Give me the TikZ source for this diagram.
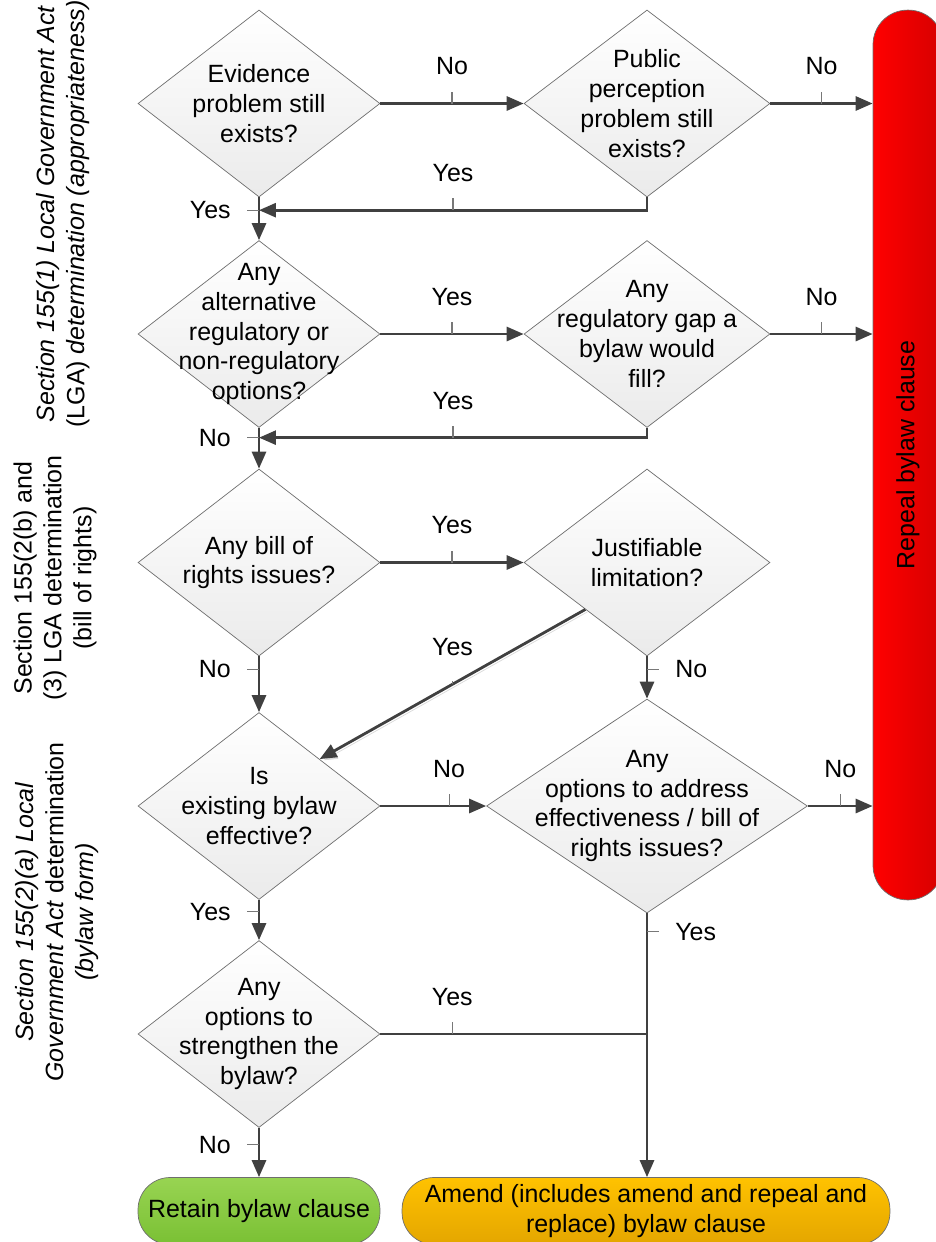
\documentclass[tikz,border=0pt]{standalone}
\usepackage{fontspec}
\setmainfont{Liberation Sans}
\usetikzlibrary{shapes.geometric,arrows.meta}

\definecolor{linegray}{RGB}{64,64,64}
\definecolor{edgegray}{RGB}{110,110,110}
\definecolor{tickgray}{RGB}{120,120,120}
\definecolor{repealred}{RGB}{255,0,0}
\definecolor{repealdark}{RGB}{214,0,0}
\definecolor{retaintop}{RGB}{152,212,82}
\definecolor{retainbot}{RGB}{122,192,52}
\definecolor{amendtop}{RGB}{255,194,0}
\definecolor{amendbot}{RGB}{228,166,0}

\begin{document}
\begin{tikzpicture}[
  x=0.02cm, y=-0.02cm,
  font=\fontsize{14.2pt}{17pt}\selectfont,
  dec/.style={diamond,draw=edgegray,top color=white,bottom color=black!8,
    align=center,inner sep=-0.7cm,minimum width=4.84cm,minimum height=3.74cm},
  term/.style={draw=edgegray,rounded corners=0.64cm,minimum height=1.34cm,
    align=center,top color=#1top,bottom color=#1bot},
  bar/.style={draw=edgegray,rounded corners=0.69cm,minimum width=1.4cm,
    minimum height=17.8cm,left color=repealred,right color=repealdark},
  sect/.style={rotate=90,align=center},
  arrow/.style={-{Triangle[length=0.34cm,width=0.28cm]},line width=1.6pt,draw=linegray},
  link/.style={line width=1.6pt,draw=linegray},
  shadowed/.style={preaction={draw=black!15,transform canvas={shift={(0.04cm,-0.05cm)}}}},
  pin distance=0.56cm,
  every pin/.style={inner sep=0pt},
  every pin edge/.style={-,draw=tickgray,line width=0.6pt,shorten >=0.32cm},
]
\useasboundingbox (0,0) rectangle (936,1242);

% appropriateness
\node[dec] (evid) at (259,103.5) {Evidence\\problem still\\exists?};
\node[dec,minimum width=4.92cm] (percep) at (647,103.5) {Public\\perception\\problem still\\exists?};
\node[dec] (alt) at (259,334) {Any\\alternative\\regulatory or\\non-regulatory\\options?};
\node[dec,minimum width=4.92cm] (gap) at (647,334) {Any\\regulatory gap a\\bylaw would\\fill?};
% bill of rights
\node[dec] (rights) at (259,562.5) {Any bill of\\rights issues?};
\node[dec,minimum width=4.92cm] (justif) at (647,562.5) {Justifiable\\limitation?};
% bylaw form
\node[dec] (effect) at (259,806) {Is\\existing bylaw\\effective?};
\node[dec,minimum width=6.42cm,minimum height=4.28cm] (address) at (647,806)
  {Any\\options to address\\effectiveness / bill of\\rights issues?};
\node[dec] (strength) at (259,1034) {Any\\options to\\strengthen the\\bylaw?};
% outcomes
\node[term=retain,minimum width=4.84cm] (retain) at (259,1211) {Retain bylaw clause};
\node[term=amend,minimum width=9.76cm] (amend) at (646,1211)
  {Amend (includes amend and repeal and\\replace) bylaw clause};
\node[bar,label={[rotate=90]center:Repeal bylaw clause}] (repeal) at (908,455) {};
% section labels
\node[sect] (sec1) at (63,214)
  {\textit{Section 155(1) Local Government Act}\\(LGA) \textit{determination (appropriateness)}};
\node[sect] (sec2) at (55,578)
  {Section 155(2(b) and\\(3) LGA determination\\(bill of rights)};
\node[sect] (sec3) at (57,912)
  {\textit{Section 155(2)(a) Local}\\\textit{Government Act} determination\\\textit{(bylaw form)}};

\draw[arrow] (evid) -- coordinate (no1) (percep);
\draw[arrow] (percep) -- coordinate (no2) (percep -| repeal.west);
\draw[arrow] (evid) -- coordinate[pos=.3] (yes1) (alt);
\draw[arrow] (percep) |- coordinate[pos=.75] (yes2) (yes1);

\draw[arrow] (alt) -- coordinate (yes3) (gap);
\draw[arrow] (gap) -- coordinate (no4) (gap -| repeal.west);
\draw[arrow] (alt) -- coordinate[pos=.24] (no3) (rights);
\draw[arrow] (gap) |- coordinate[pos=.75] (yes4) (no3);

\draw[arrow] (rights) -- coordinate (yes5) (justif);
\draw[arrow,shadowed] (justif.south west) -- coordinate (yes6) (effect.north east);
\draw[arrow] (justif) -- coordinate[pos=.3] (no6) (address);
\draw[arrow] (rights) -- coordinate[pos=.23] (no5) (effect);

\draw[arrow] (effect) -- coordinate[pos=.65] (no7) (address);
\draw[arrow] (address) -- coordinate (no8) (address -| repeal.west);
\draw[arrow] (effect) -- coordinate[pos=.3] (yes7) (strength);
\draw[link] (strength) -- coordinate[pos=.27] (yes9) (strength -| address);
\draw[arrow] (address) -- coordinate[pos=.07] (yes8) (address |- amend.north);
\draw[arrow] (strength) -- coordinate[pos=.34] (no9) (retain);

% branch labels with their ticks
\foreach \c/\a/\t in {no1/90/No, no2/90/No, yes1/180/Yes, yes2/90/Yes,
    yes3/90/Yes, no4/90/No, no3/180/No, yes4/90/Yes, yes5/90/Yes,
    no6/0/No, no5/180/No, no7/90/No, no8/90/No, yes7/180/Yes,
    yes9/90/Yes, yes8/0/Yes, no9/180/No}
  \path (\c) coordinate[pin=\a:\t] (\c-t);
\path (yes6) coordinate[pin distance=0.76cm,
  pin={[pin edge={shorten >=0.5cm}]90:Yes}] (yes6-t);
\end{tikzpicture}
\end{document}
